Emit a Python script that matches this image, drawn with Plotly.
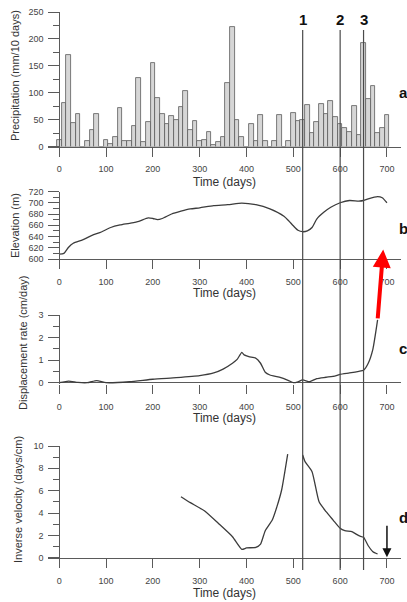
import plotly.graph_objects as go

# ---------------- data ----------------
rain_days = list(range(0, 710, 10))
rain_mm = [13, 80, 170, 44, 60, 0, 11, 30, 60, 0,
           13, 4, 17, 72, 10, 11, 38, 127, 9, 45,
           155, 91, 61, 42, 56, 49, 74, 103, 31, 48,
           11, 13, 27, 2, 9, 18, 118, 223, 49, 18,
           0, 42, 11, 59, 10, 0, 11, 59, 0, 10,
           62, 47, 50, 78, 26, 45, 79, 61, 85, 54,
           42, 35, 27, 76, 22, 193, 88, 112, 25, 35,
           58]

elev_days = [0, 10, 20, 30, 50, 70, 90, 110, 130, 150, 170, 190, 200, 210, 220,
             240, 260, 280, 300, 330, 360, 390, 420, 450, 480, 490, 500, 510,
             520, 530, 540, 550, 565, 580, 600, 620, 640, 650, 660, 680, 690, 700]
elev_m = [608.5, 610, 621, 628, 634, 642, 648, 656, 660.5, 663.5, 667, 673, 672, 670, 672,
          680, 685, 689, 691, 695, 696.5, 699.5, 696.5, 689, 676, 668, 659, 651,
          648.5, 650, 656, 671, 683, 692, 700, 704, 703, 704, 707, 711, 709, 700]

disp_days = [0, 20, 40, 60, 80, 100, 150, 200, 250, 300, 330, 350, 370, 380, 390,
             395, 405, 420, 430, 440, 450, 470, 490, 500, 510, 520, 535, 550, 570,
             590, 600, 620, 640, 650, 660, 670, 680]
disp_rate = [0.0, 0.07, 0.01, 0.0, 0.09, 0.0, 0.04, 0.15, 0.22, 0.31, 0.43, 0.6, 0.86, 1.03, 1.34,
             1.23, 1.15, 1.08, 0.86, 0.46, 0.34, 0.24, 0.09, 0.0, 0.04, 0.12, 0.04, 0.18, 0.24,
             0.3, 0.37, 0.43, 0.5, 0.55, 0.86, 1.49, 2.78]

inv_days = [260, 280, 310, 340, 370, 390, 400, 420, 430, 440, 455, 465, 475, 488,
            None,
            520, 525, 540, 555, 570, 585, 600, 610, 625, 640, 650, 660, 670, 680]
inv_vel = [5.46, 4.93, 4.2, 3.07, 1.88, 0.75, 0.87, 0.93, 1.22, 2.42, 3.37, 4.57, 6.06, 9.28,
           None,
           9.19, 8.6, 7.7, 5.0, 4.12, 3.37, 2.63, 2.42, 2.33, 1.97, 1.82, 1.07, 0.54, 0.33]

event_days = [520, 600, 650]
event_labels = ["1", "2", "3"]
panel_labels = ["a", "b", "c", "d"]
x_tickvals = [0, 100, 200, 300, 400, 500, 600, 700]
x_title = "Time (days)"
y_titles = ["Precipitation (mm/10 days)", "Elevation (m)",
            "Displacement rate (cm/day)", "Inverse velocity (days/cm)"]
y_ranges = [[0, 250], [600, 720], [-0.06, 3], [0, 10]]
y_dticks = [50, 20, 1, 2]
y_minor = [25, 10, 0.5, 1]
x_range = [-24, 730]

# ---------------- layout helpers (pixels -> paper) ----------------
W, H = 407, 602
def fx(p):
    return p / W
def fy(p):
    return 1 - p / H

FONT = "Arial, Liberation Sans, sans-serif"
AX = "#5a5a5a"
TXT = "#333333"
LINE = "#3c3c3c"

x_dom = [fx(48), fx(401)]
y_pos = fx(59.3)
y_doms = [[fy(146.5), fy(12)], [fy(259), fy(191.5)], [fy(384), fy(315)], [fy(557.7), fy(446)]]
x_title_px = [182, 293, 418, 593]

fig = go.Figure()

fig.add_trace(go.Bar(x=rain_days, y=rain_mm, width=10,
                     marker=dict(color="#d6d6d6", line=dict(color="#5a5a5a", width=0.8)),
                     xaxis="x", yaxis="y", hoverinfo="skip"))
fig.add_trace(go.Scatter(x=elev_days, y=elev_m, mode="lines",
                         line=dict(color=LINE, width=1.3, shape="spline", smoothing=0.6),
                         xaxis="x2", yaxis="y2"))
fig.add_trace(go.Scatter(x=disp_days, y=disp_rate, mode="lines",
                         line=dict(color=LINE, width=1.3, shape="spline", smoothing=0.5),
                         xaxis="x3", yaxis="y3"))
fig.add_trace(go.Scatter(x=inv_days, y=inv_vel, mode="lines", connectgaps=False,
                         line=dict(color=LINE, width=1.3, shape="spline", smoothing=0.5),
                         xaxis="x4", yaxis="y4"))

layout = dict(width=W, height=H, margin=dict(l=0, r=0, t=0, b=0, autoexpand=False),
              paper_bgcolor="white", plot_bgcolor="white", showlegend=False,
              bargap=0, font=dict(family=FONT, color=TXT))

for i in range(4):
    sfx = "" if i == 0 else str(i + 1)
    ycap = "y" + sfx
    layout["xaxis" + sfx] = dict(
        domain=x_dom, range=x_range, anchor=ycap,
        tickmode="array", tickvals=x_tickvals,
        ticks="outside", ticklen=9, tickcolor=AX, tickwidth=1,
        showline=(i != 2), linecolor=AX, linewidth=1,
        showgrid=False, zeroline=False, automargin=False,
        tickfont=dict(size=9, color="#444"), ticklabelstandoff=5,
    )
    layout["yaxis" + sfx] = dict(
        domain=y_doms[i], range=y_ranges[i], anchor="free", position=y_pos,
        dtick=y_dticks[i], tick0=0,
        ticks="outside", ticklen=11, tickcolor=AX, tickwidth=1,
        minor=dict(dtick=y_minor[i], tick0=0, ticks="outside", ticklen=6,
                   tickcolor=AX, tickwidth=1, showgrid=False),
        showline=True, linecolor=AX, linewidth=1, automargin=False,
        showgrid=False, zeroline=(i == 2), zerolinecolor=AX, zerolinewidth=1,
        tickfont=dict(size=9, color="#444"), ticklabelstandoff=3,
    )

fig.update_layout(**layout)

# x titles
for ypx in x_title_px:
    fig.add_annotation(x=fx(224.5), y=fy(ypx), xref="paper", yref="paper", text=x_title,
                       xanchor="center", yanchor="middle", showarrow=False,
                       font=dict(size=12, color=TXT))

# vertical event lines and labels
for d, lab in zip(event_days, event_labels):
    fig.add_shape(type="line", xref="x", yref="paper", x0=d, x1=d,
                  y0=fy(570), y1=fy(30), line=dict(color="#4a4a4a", width=1.2), layer="above")
    fig.add_annotation(x=d, xref="x", y=fy(20), yref="paper", text="<b>%s</b>" % lab,
                       xanchor="center", yanchor="middle",
                       showarrow=False, font=dict(size=15, color="#111"))

# panel letters
for lab, ypx in zip(panel_labels, [92, 228, 348, 517]):
    fig.add_annotation(x=fx(403), y=fy(ypx), xref="paper", yref="paper",
                       text="<b>%s</b>" % lab, showarrow=False,
                       xanchor="center", yanchor="middle",
                       font=dict(size=15, color="#111"))

# y titles
for t, (xp, yp) in zip(y_titles, [(15, 76), (15, 226), (23, 343), (18, 500)]):
    fig.add_annotation(x=fx(xp), y=fy(yp), xref="paper", yref="paper", text=t,
                       xanchor="center", yanchor="middle",
                       textangle=-90, showarrow=False, font=dict(size=11, color=TXT))

# red arrow continuing displacement curve
fig.add_annotation(x=692, y=5.9, xref="x3", yref="y3",
                   ax=disp_days[-1], ay=disp_rate[-1], axref="x3", ayref="y3",
                   showarrow=True, arrowhead=2, arrowsize=0.9, arrowwidth=4,
                   arrowcolor="#ff0000", text="")
# black arrow in panel d
fig.add_annotation(x=700, y=0.05, xref="x4", yref="y4",
                   ax=700, ay=3.0, axref="x4", ayref="y4",
                   showarrow=True, arrowhead=2, arrowsize=1.2, arrowwidth=1.5,
                   arrowcolor="#111", text="")

fig.write_html("out.html", config={"displayModeBar": False},
               post_script="document.body.style.margin='0';document.body.style.overflow='hidden';")
